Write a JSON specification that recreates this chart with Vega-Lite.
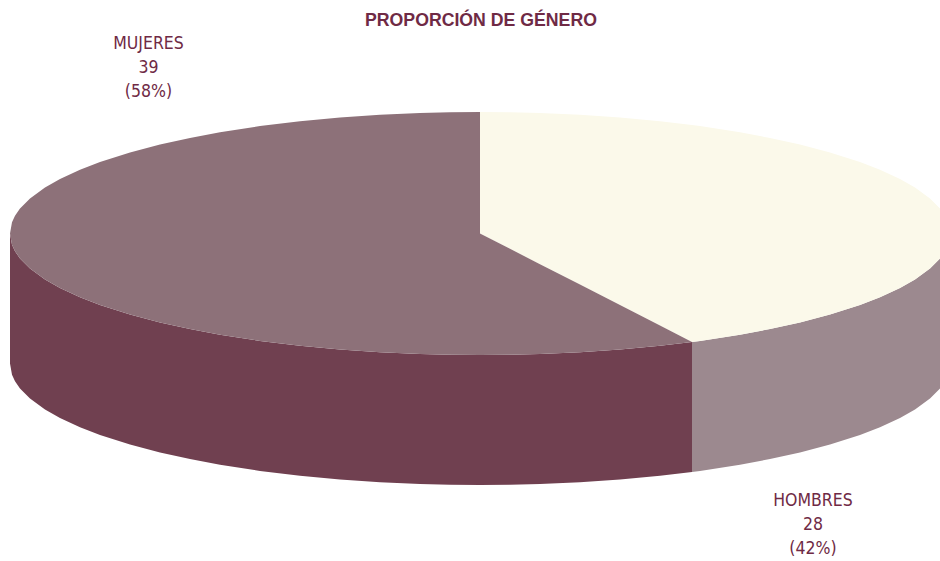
{
"$schema":"https://vega.github.io/schema/vega-lite/v6.json",
"width":940,"height":561,"padding":0,"autosize":{"type":"none"},
"background":"white",
"title":{"text":"PROPORCIÓN DE GÉNERO","anchor":"start","frame":"group","dx":365,"dy":30,"offset":0,"font":"Liberation Sans","fontWeight":"bold","fontSize":17.7,"color":"#6f2a45"},
"view":{"stroke":null},
"layer":[
{"data":{"values":[
{"part":"lado_m","x":10,"y":233.5,"y2":363.5},{"part":"lado_m","x":12,"y":244.7,"y2":374.7},{"part":"lado_m","x":15,"y":251.2,"y2":381.2},{"part":"lado_m","x":20,"y":258.4,"y2":388.4},{"part":"lado_m","x":30,"y":268.6,"y2":398.6},{"part":"lado_m","x":45,"y":279.5,"y2":409.5},{"part":"lado_m","x":60,"y":288,"y2":418},{"part":"lado_m","x":80,"y":297.3,"y2":427.3},{"part":"lado_m","x":100,"y":305,"y2":435},{"part":"lado_m","x":130,"y":314.6,"y2":444.6},{"part":"lado_m","x":160,"y":322.5,"y2":452.5},{"part":"lado_m","x":190,"y":329.1,"y2":459.1},{"part":"lado_m","x":220,"y":334.7,"y2":464.7},{"part":"lado_m","x":260,"y":340.9,"y2":470.9},{"part":"lado_m","x":300,"y":345.7,"y2":475.7},{"part":"lado_m","x":340,"y":349.5,"y2":479.5},{"part":"lado_m","x":380,"y":352.2,"y2":482.2},{"part":"lado_m","x":420,"y":354,"y2":484},{"part":"lado_m","x":450,"y":354.7,"y2":484.7},{"part":"lado_m","x":480,"y":355,"y2":485},{"part":"lado_m","x":510,"y":354.7,"y2":484.7},{"part":"lado_m","x":540,"y":354,"y2":484},{"part":"lado_m","x":580,"y":352.2,"y2":482.2},{"part":"lado_m","x":620,"y":349.5,"y2":479.5},{"part":"lado_m","x":660,"y":345.7,"y2":475.7},{"part":"lado_m","x":692,"y":341.9,"y2":471.9},
{"part":"lado_h","x":692,"y":341.9,"y2":471.9},{"part":"lado_h","x":700,"y":340.9,"y2":470.9},{"part":"lado_h","x":740,"y":334.7,"y2":464.7},{"part":"lado_h","x":770,"y":329.1,"y2":459.1},{"part":"lado_h","x":800,"y":322.5,"y2":452.5},{"part":"lado_h","x":830,"y":314.6,"y2":444.6},{"part":"lado_h","x":860,"y":305,"y2":435},{"part":"lado_h","x":880,"y":297.3,"y2":427.3},{"part":"lado_h","x":900,"y":288,"y2":418},{"part":"lado_h","x":915,"y":279.5,"y2":409.5},{"part":"lado_h","x":930,"y":268.6,"y2":398.6},{"part":"lado_h","x":940,"y":258.4,"y2":388.4},
{"part":"tapa_h","x":480,"y":112,"y2":233.5},{"part":"tapa_h","x":510,"y":112.3,"y2":248.8},{"part":"tapa_h","x":540,"y":113,"y2":264.2},{"part":"tapa_h","x":580,"y":114.8,"y2":284.6},{"part":"tapa_h","x":620,"y":117.5,"y2":305.1},{"part":"tapa_h","x":660,"y":121.3,"y2":325.5},{"part":"tapa_h","x":692,"y":125.1,"y2":341.9},{"part":"tapa_h","x":700,"y":126.1,"y2":340.9},{"part":"tapa_h","x":740,"y":132.3,"y2":334.7},{"part":"tapa_h","x":770,"y":137.9,"y2":329.1},{"part":"tapa_h","x":800,"y":144.5,"y2":322.5},{"part":"tapa_h","x":830,"y":152.4,"y2":314.6},{"part":"tapa_h","x":860,"y":162,"y2":305},{"part":"tapa_h","x":880,"y":169.7,"y2":297.3},{"part":"tapa_h","x":900,"y":179,"y2":288},{"part":"tapa_h","x":915,"y":187.5,"y2":279.5},{"part":"tapa_h","x":930,"y":198.4,"y2":268.6},{"part":"tapa_h","x":940,"y":208.6,"y2":258.4},
{"part":"tapa_m","x":10,"y":233.5,"y2":233.5},{"part":"tapa_m","x":12,"y":222.3,"y2":244.7},{"part":"tapa_m","x":15,"y":215.8,"y2":251.2},{"part":"tapa_m","x":20,"y":208.6,"y2":258.4},{"part":"tapa_m","x":30,"y":198.4,"y2":268.6},{"part":"tapa_m","x":45,"y":187.5,"y2":279.5},{"part":"tapa_m","x":60,"y":179,"y2":288},{"part":"tapa_m","x":80,"y":169.7,"y2":297.3},{"part":"tapa_m","x":100,"y":162,"y2":305},{"part":"tapa_m","x":130,"y":152.4,"y2":314.6},{"part":"tapa_m","x":160,"y":144.5,"y2":322.5},{"part":"tapa_m","x":190,"y":137.9,"y2":329.1},{"part":"tapa_m","x":220,"y":132.3,"y2":334.7},{"part":"tapa_m","x":260,"y":126.1,"y2":340.9},{"part":"tapa_m","x":300,"y":121.3,"y2":345.7},{"part":"tapa_m","x":340,"y":117.5,"y2":349.5},{"part":"tapa_m","x":380,"y":114.8,"y2":352.2},{"part":"tapa_m","x":420,"y":113,"y2":354},{"part":"tapa_m","x":450,"y":112.3,"y2":354.7},{"part":"tapa_m","x":480,"y":112,"y2":355},{"part":"tapa_m","x":480,"y":233.5,"y2":355},{"part":"tapa_m","x":510,"y":248.8,"y2":354.7},{"part":"tapa_m","x":540,"y":264.2,"y2":354},{"part":"tapa_m","x":580,"y":284.6,"y2":352.2},{"part":"tapa_m","x":620,"y":305.1,"y2":349.5},{"part":"tapa_m","x":660,"y":325.5,"y2":345.7},{"part":"tapa_m","x":692,"y":341.9,"y2":341.9}
]},
"mark":{"type":"area","interpolate":"linear","clip":true},
"encoding":{
"x":{"field":"x","type":"quantitative","scale":{"domain":[0,940]},"axis":null},
"y":{"field":"y","type":"quantitative","scale":{"domain":[561,0]},"axis":null},
"y2":{"field":"y2"},
"color":{"field":"part","type":"nominal","legend":null,"scale":{"domain":["lado_m","lado_h","tapa_h","tapa_m"],"range":["#704050","#9c898f","#fbf9ea","#8d7179"]}}
}},
{"data":{"values":[
{"nombre":"MUJERES","valor":39,"pct":"(58%)","etiqueta":"MUJERES\n39\n(58%)","x":148.5,"y":44},
{"nombre":"HOMBRES","valor":28,"pct":"(42%)","etiqueta":"HOMBRES\n28\n(42%)","x":813,"y":501}
]},
"mark":{"type":"text","font":"DejaVu Sans Condensed, DejaVu Sans","fontSize":17.5,"color":"#6f2a45","align":"center","baseline":"middle","lineBreak":"\n","lineHeight":24},
"encoding":{
"x":{"field":"x","type":"quantitative","scale":{"domain":[0,940]},"axis":null},
"y":{"field":"y","type":"quantitative","scale":{"domain":[561,0]},"axis":null},
"text":{"field":"etiqueta","type":"nominal"}
}}
]
}
